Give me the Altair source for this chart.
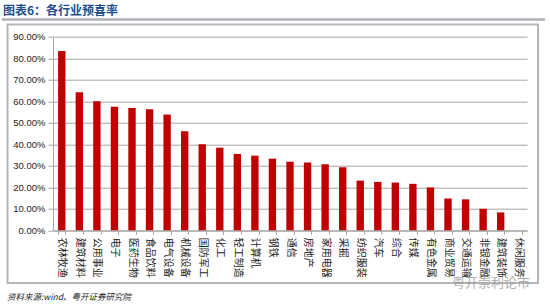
import altair as alt
import pandas as pd

categories = ["农林牧渔", "建筑材料", "公用事业", "电子", "医药生物", "食品饮料", "电气设备",
              "机械设备", "国防军工", "化工", "轻工制造", "计算机", "钢铁", "通信", "房地产",
              "家用电器", "采掘", "纺织服装", "汽车", "综合", "传媒", "有色金属", "商业贸易",
              "交通运输", "非银金融", "建筑装饰", "休闲服务"]
values = [0.833, 0.642, 0.600, 0.574, 0.569, 0.563, 0.538, 0.461, 0.400, 0.384, 0.355,
          0.347, 0.333, 0.319, 0.315, 0.307, 0.293, 0.231, 0.225, 0.222, 0.216, 0.199,
          0.148, 0.144, 0.100, 0.083, 0.0]
y_ticks = [0.0, 0.1, 0.2, 0.3, 0.4, 0.5, 0.6, 0.7, 0.8, 0.9]

title_text = "图表6：各行业预喜率"
source_text = "资料来源:wind、粤开证券研究院"
watermark_text = "粤开崇利论市"

df = pd.DataFrame({"行业": categories, "预喜率": values})

W, H = 474, 193.6
LEFT, TOP = 53, 36.7
CJK = "Noto Sans CJK SC"
GREY = "#a6a6a6"

bars = alt.Chart(df).mark_bar(color="#c00000").encode(
    x=alt.X("行业:N", sort=None, title=None,
            scale=alt.Scale(paddingInner=0.58, paddingOuter=0.29),
            axis=alt.Axis(labelAngle=90, labelAlign="left", labelBaseline="middle",
                          labelFont=CJK, labelFontSize=10, labelColor="#222222",
                          labelPadding=3, tickBand="extent", tickSize=4,
                          tickColor=GREY, domainColor=GREY, labelOverlap=False)),
    y=alt.Y("预喜率:Q", title=None,
            scale=alt.Scale(domain=[0, 0.9], nice=False),
            axis=alt.Axis(values=y_ticks, format=".2%", labelFont="Liberation Sans",
                          labelFontSize=9.5, labelColor="#222222", labelPadding=3,
                          tickSize=5, tickColor=GREY, domainColor=GREY,
                          gridColor=GREY, grid=True)),
)

tdf = pd.DataFrame({"t": [title_text]})

# outer chart frame (slightly tinted grey)
fx0, fx1, fy0, fy1 = 7.5, 538, 24.5, 283
frame = alt.Chart(tdf).mark_rect(
    fill="transparent", stroke="#b4b6bc", strokeWidth=2,
    width=fx1 - fx0, height=fy1 - fy0).encode(
    x=alt.value((fx0 + fx1) / 2 - LEFT), y=alt.value((fy0 + fy1) / 2 - TOP))

# line under the title
lx0, lx1 = 2, 545
title_line = alt.Chart(tdf).mark_rect(
    color="#adb0b6", width=lx1 - lx0, height=2.5).encode(
    x=alt.value((lx0 + lx1) / 2 - LEFT), y=alt.value(19.5 - TOP))

title = alt.Chart(tdf).mark_text(
    align="left", baseline="middle", font=CJK, fontSize=12, fontWeight="bold",
    color="#1f4e8c").encode(
    x=alt.value(3 - LEFT), y=alt.value(11 - TOP), text="t:N")

source = alt.Chart(pd.DataFrame({"t": [source_text]})).mark_text(
    align="left", baseline="middle", font=CJK, fontSize=8.5, fontStyle="italic",
    color="#222222").encode(
    x=alt.value(7 - LEFT), y=alt.value(297 - TOP), text="t:N")

watermark = alt.Chart(pd.DataFrame({"t": [watermark_text]})).mark_text(
    align="left", baseline="middle", font=CJK, fontSize=13,
    color="#9a9a9a", opacity=0.8).encode(
    x=alt.value(452 - LEFT), y=alt.value(283 - TOP), text="t:N")

chart = alt.layer(bars, frame, title_line, title, source, watermark).properties(
    width=W, height=H,
    autosize=alt.AutoSizeParams(type="none"),
    padding={"left": LEFT, "top": TOP, "right": 550 - LEFT - W, "bottom": 308 - TOP - H},
    background="white",
).configure_view(stroke=None)

chart.save("out.html", embed_options={"renderer": "svg", "actions": False})
